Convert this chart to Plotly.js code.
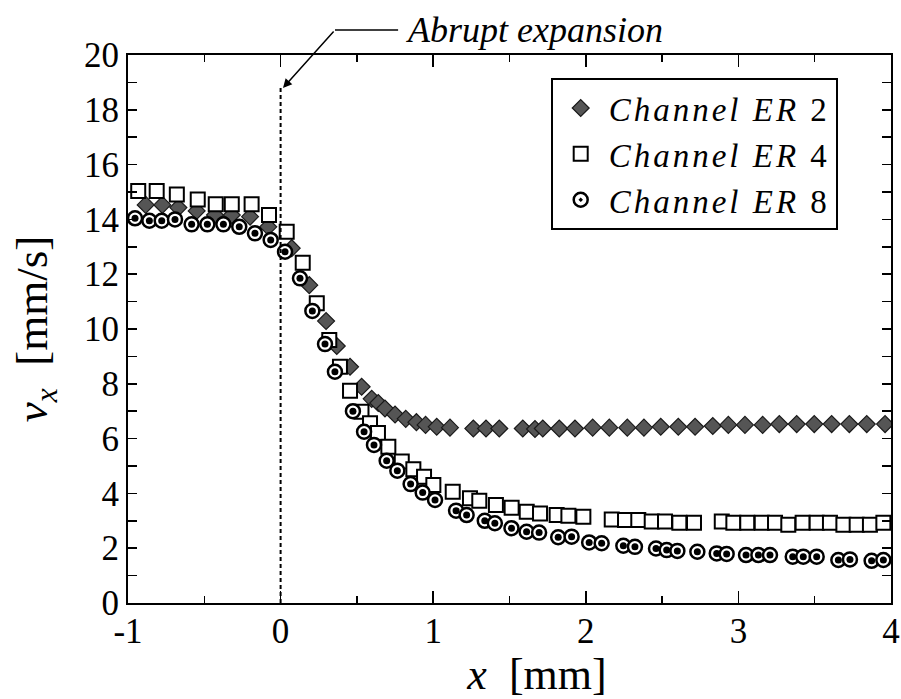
<!DOCTYPE html>
<html>
<head>
<meta charset="utf-8">
<script src="https://cdn.plot.ly/plotly-3.0.1.min.js"></script>
<style>
body{margin:0;background:#fff}
#chart{width:901px;height:699px}
.legendtext{letter-spacing:3px}
</style>
</head>
<body>
<div id="chart"></div>
<script>
// Channel ER 2 (diamonds)
const er2X = [-0.884, -0.775, -0.670, -0.55, -0.43, -0.32, -0.2, -0.081, 0.073, 0.188, 0.298, 0.368, 0.455, 0.531, 0.597, 0.640, 0.684, 0.750, 0.820, 0.890, 0.950, 1.023, 1.110, 1.263, 1.346, 1.433, 1.587, 1.667, 1.718, 1.826, 1.929, 2.045, 2.154, 2.272, 2.381, 2.491, 2.606, 2.716, 2.832, 2.934, 3.043, 3.159, 3.268, 3.382, 3.497, 3.611, 3.727, 3.841, 3.961];
const er2Y = [14.53, 14.53, 14.43, 14.31, 14.16, 14.16, 14.1, 13.73, 12.95, 11.6, 10.29, 9.38, 8.62, 7.89, 7.45, 7.3, 7.1, 6.88, 6.72, 6.6, 6.5, 6.43, 6.4, 6.37, 6.37, 6.37, 6.37, 6.35, 6.37, 6.37, 6.37, 6.4, 6.4, 6.4, 6.4, 6.43, 6.43, 6.43, 6.46, 6.5, 6.5, 6.5, 6.53, 6.53, 6.53, 6.53, 6.53, 6.53, 6.53];
// Channel ER 4 (squares)
const er4X = [-0.933, -0.812, -0.68, -0.543, -0.425, -0.32, -0.19, -0.076, 0.04, 0.145, 0.237, 0.319, 0.389, 0.455, 0.53, 0.586, 0.638, 0.706, 0.794, 0.870, 0.940, 1.001, 1.128, 1.241, 1.302, 1.411, 1.514, 1.613, 1.700, 1.809, 1.886, 1.984, 2.170, 2.257, 2.344, 2.432, 2.519, 2.613, 2.709, 2.891, 2.967, 3.058, 3.153, 3.240, 3.327, 3.421, 3.513, 3.600, 3.688, 3.775, 3.862, 3.950];
const er4Y = [15.04, 15.04, 14.91, 14.73, 14.55, 14.55, 14.55, 14.16, 13.55, 12.42, 10.94, 9.6, 8.62, 7.75, 6.98, 6.56, 6.2, 5.7, 5.16, 4.88, 4.61, 4.31, 4.06, 3.82, 3.73, 3.58, 3.48, 3.33, 3.27, 3.21, 3.18, 3.15, 3.05, 3.03, 3.03, 2.97, 2.97, 2.93, 2.93, 2.97, 2.93, 2.93, 2.93, 2.93, 2.86, 2.93, 2.93, 2.93, 2.86, 2.86, 2.86, 2.93];
// Channel ER 8 (dotted circles)
const er8X = [-0.954, -0.860, -0.779, -0.692, -0.583, -0.480, -0.375, -0.271, -0.168, -0.065, 0.029, 0.127, 0.208, 0.291, 0.356, 0.474, 0.547, 0.612, 0.695, 0.765, 0.852, 0.931, 1.012, 1.150, 1.219, 1.338, 1.404, 1.513, 1.612, 1.694, 1.819, 1.907, 2.022, 2.104, 2.246, 2.322, 2.460, 2.530, 2.600, 2.731, 2.858, 2.923, 3.050, 3.131, 3.207, 3.356, 3.425, 3.513, 3.655, 3.731, 3.873, 3.950];
const er8Y = [14.04, 13.95, 13.95, 14.0, 13.82, 13.82, 13.82, 13.73, 13.49, 13.25, 12.82, 11.85, 10.66, 9.45, 8.44, 7.0, 6.25, 5.77, 5.19, 4.83, 4.34, 4.03, 3.76, 3.37, 3.21, 3.00, 2.91, 2.73, 2.60, 2.57, 2.40, 2.42, 2.21, 2.18, 2.09, 2.05, 1.99, 1.93, 1.90, 1.87, 1.81, 1.79, 1.75, 1.75, 1.75, 1.69, 1.69, 1.69, 1.57, 1.59, 1.54, 1.57];

const seriesNames = ['<i>Channel ER</i> 2', '<i>Channel ER</i> 4', '<i>Channel ER</i> 8'];
const xTickVals = [-1, 0, 1, 2, 3, 4];
const yTickVals = [0, 2, 4, 6, 8, 10, 12, 14, 16, 18, 20];
const expansionX = 0;
const annotationText = '<i>Abrupt expansion</i>';

const FONT = 'Liberation Serif, Times New Roman, serif';

const traces = [
  {x: er2X, y: er2Y, type: 'scatter', mode: 'markers', name: seriesNames[0],
   marker: {symbol: 'diamond', size: 13, color: '#555555', line: {color: '#1a1a1a', width: 1.2}}},
  {x: er4X, y: er4Y, type: 'scatter', mode: 'markers', name: seriesNames[1],
   marker: {symbol: 'square', size: 14, color: '#ffffff', line: {color: '#000000', width: 2}}},
  {x: er8X, y: er8Y, type: 'scatter', mode: 'markers', name: seriesNames[2],
   marker: {symbol: 'circle-dot', size: 14, color: '#ffffff', line: {color: '#000000', width: 2.5}}},
  {x: er8X, y: er8Y, type: 'scatter', mode: 'markers', showlegend: false, hoverinfo: 'skip',
   marker: {symbol: 'circle', size: 7, color: '#000000'}}
];

const axisCommon = {
  showline: true, linecolor: '#000', linewidth: 2, mirror: 'ticks',
  ticks: 'inside', tickcolor: '#000', tickwidth: 1.5,
  showgrid: false, zeroline: false,
  tickfont: {family: FONT, size: 35, color: '#000'}
};

const layout = {
  width: 901, height: 699,
  margin: {l: 128, r: 10, t: 55, b: 96},
  paper_bgcolor: '#fff', plot_bgcolor: '#fff',
  font: {family: FONT, color: '#000'},
  xaxis: Object.assign({}, axisCommon, {
    range: [-1, 4], tickvals: xTickVals, ticktext: xTickVals.map(String),
    ticklen: 12, ticklabelstandoff: -4,
    minor: {dtick: 0.5, ticks: 'inside', ticklen: 7, tickcolor: '#000', tickwidth: 1.5},
    title: {text: '\u200b\u00a0\u00a0\u00a0\u00a0\u00a0<i>x</i>\u00a0\u00a0[mm]', font: {family: FONT, size: 44, color: '#000'}, standoff: 2}
  }),
  yaxis: Object.assign({}, axisCommon, {
    range: [0, 20], tickvals: yTickVals, ticktext: yTickVals.map(String),
    ticklen: 9,
    minor: {dtick: 1, ticks: 'inside', ticklen: 9, tickcolor: '#000', tickwidth: 1.5},
    title: {text: '<i>v</i><sub><i>x</i></sub>\u00a0\u00a0[mm/s]', font: {family: FONT, size: 45, color: '#000'}, standoff: 22}
  }),
  legend: {
    x: 0.554, y: 0.958, xanchor: 'left', yanchor: 'top',
    bgcolor: '#fff', bordercolor: '#000', borderwidth: 2,
    font: {family: FONT, size: 33, color: '#000'},
    itemwidth: 46, tracegroupgap: 0
  },
  shapes: [
    {type: 'line', xref: 'x', yref: 'y', x0: expansionX, x1: expansionX, y0: 0, y1: 18.8,
     line: {color: '#000', width: 2, dash: '4px,3px'}},
    {type: 'line', xref: 'paper', yref: 'paper', x0: 0.2713, x1: 0.354, y0: 1.0456, y1: 1.0456,
     line: {color: '#000', width: 1.5}}
  ],
  annotations: [
    {xref: 'paper', yref: 'paper', x: 0.3617, y: 1.0456, xanchor: 'left', yanchor: 'middle',
     text: annotationText, showarrow: false, font: {family: FONT, size: 36, color: '#000'}},
    {xref: 'paper', yref: 'paper', x: 0.2031, y: 0.9398, text: '', showarrow: true,
     ax: 52, ay: -58, arrowhead: 2, arrowsize: 1.2, arrowwidth: 1.5, arrowcolor: '#000'}
  ],
  showlegend: true
};

Plotly.newPlot('chart', traces, layout, {staticPlot: true});
</script>
</body>
</html>
